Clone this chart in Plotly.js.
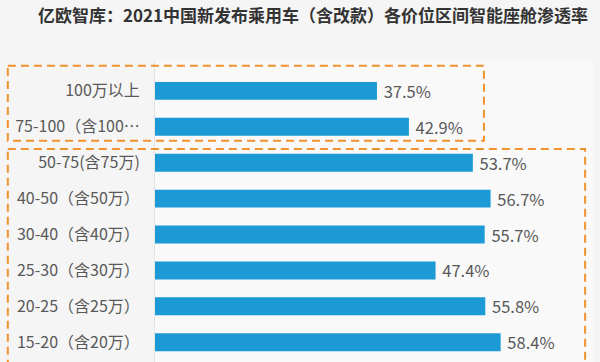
<!DOCTYPE html>
<html>
<head>
<meta charset="utf-8">
<script src="https://cdn.plot.ly/plotly-3.0.1.min.js"></script>
<style>html,body{margin:0;padding:0;background:#f5f5f5;}#chart{width:600px;height:362px;}</style>
</head>
<body>
<div id="chart"></div>
<script>
const categories = ["100万以上", "75-100（含100…", "50-75(含75万)", "40-50（含50万）", "30-40（含40万）", "25-30（含30万）", "20-25（含25万）", "15-20（含20万）"];
const values = [37.5, 42.9, 53.7, 56.7, 55.7, 47.4, 55.8, 58.4];
const titleText = "亿欧智库：2021中国新发布乘用车（含改款）各价位区间智能座舱渗透率";

const font = '"Noto Sans CJK SC", "Noto Sans", sans-serif';
const orange = "#f0922e";

const trace = {
  type: "bar",
  orientation: "h",
  y: categories,
  x: values,
  marker: {color: "#1b9ad6"},
  texttemplate: "\u00a0%{x:.1f}%",
  textposition: "outside",
  constraintext: "none",
  textfont: {family: font, size: 16.5, color: "#595959"},
  cliponaxis: false,
  hoverinfo: "none"
};

const layout = {
  width: 600, height: 362,
  margin: {l: 155, r: 7, t: 60, b: 0},
  paper_bgcolor: "#f5f5f5",
  plot_bgcolor: "#f9f9f9",
  bargap: 0.5,
  showlegend: false,
  title: {
    text: titleText,
    font: {family: font, size: 17, color: "#333333", weight: "bold"},
    x: 38/600, xanchor: "left", xref: "container",
    y: 1 - 16/362, yanchor: "middle", yref: "container"
  },
  xaxis: {range: [0, 74], visible: false, fixedrange: true},
  yaxis: {
    type: "category",
    range: [7.55, -0.86],
    showgrid: false, zeroline: false,
    showline: true, linecolor: "#e4e4e4", linewidth: 1,
    ticks: "outside", ticklen: 11, tickcolor: "rgba(0,0,0,0)",
    tickfont: {family: font, size: 16, color: "#595959"}
  },
  shapes: [
    {type: "rect", xref: "paper", yref: "y", x0: -0.336, x1: 0.751, y0: -0.70, y1: 1.39,
     line: {color: orange, width: 2, dash: "8px,5px"}, fillcolor: "rgba(0,0,0,0)"},
    {type: "rect", xref: "paper", yref: "y", x0: -0.336, x1: 0.982, y0: 1.62, y1: 8.5,
     line: {color: orange, width: 2, dash: "8px,5px"}, fillcolor: "rgba(0,0,0,0)"}
  ]
};

Plotly.newPlot("chart", [trace], layout, {displayModeBar: false, staticPlot: true});
</script>
</body>
</html>
